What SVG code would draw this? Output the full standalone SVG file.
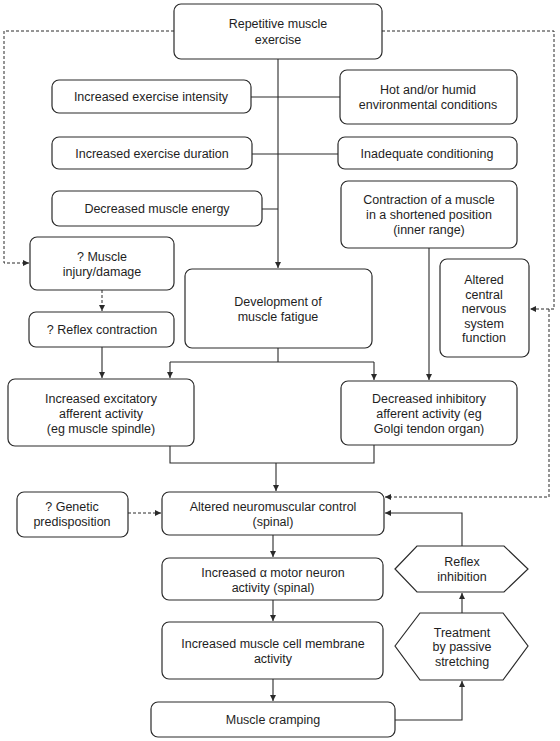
<svg xmlns="http://www.w3.org/2000/svg" width="560" height="741" viewBox="0 0 560 741">
  <style>
    .box { fill: #fff; stroke: #2a2a2a; stroke-width: 1.2; }
    .t { font-family: "Liberation Sans", Arial, sans-serif; font-size: 12.5px; fill: #1e1e1e; text-anchor: middle; }
    .ln { fill: none; stroke: #2a2a2a; stroke-width: 1.1; }
    .dash { fill: none; stroke: #2a2a2a; stroke-width: 1; stroke-dasharray: 3 2; }
  </style>
  <defs>
    <marker id="arr" markerWidth="7" markerHeight="6" refX="6" refY="3" orient="auto" markerUnits="userSpaceOnUse">
      <path d="M0,0 L6,3 L0,6 z" fill="#2a2a2a"/>
    </marker>
  </defs>
  <rect width="560" height="741" fill="#fff"/>

  <g id="connectors">
    <!-- main column -->
    <path class="ln" d="M278,59 V268" marker-end="url(#arr)"/>
    <path class="ln" d="M251,97 H278 M252,154 H278 M262,209 H278 M340,97 H278 M338,154 H278"/>
    <path class="ln" d="M429,248 V380" marker-end="url(#arr)"/>
    <path class="ln" d="M278,348 V362 M170,362 H374"/>
    <path class="ln" d="M170,362 V378" marker-end="url(#arr)"/>
    <path class="ln" d="M374,362 V380" marker-end="url(#arr)"/>
    <path class="ln" d="M102,347 V378" marker-end="url(#arr)"/>
    <path class="ln" d="M170,446 V463 H374 V445"/>
    <path class="ln" d="M276,463 V491" marker-end="url(#arr)"/>
    <path class="ln" d="M273,535 V557" marker-end="url(#arr)"/>
    <path class="ln" d="M273,600 V621" marker-end="url(#arr)"/>
    <path class="ln" d="M273,679 V701" marker-end="url(#arr)"/>
    <!-- feedback loop -->
    <path class="ln" d="M395,720 H462 V681" marker-end="url(#arr)"/>
    <path class="ln" d="M462,613 V593" marker-end="url(#arr)"/>
    <path class="ln" d="M462,546 V513 H385" marker-end="url(#arr)"/>
    <!-- dashed links -->
    <path class="dash" d="M174,31 H4 V263 H29" marker-end="url(#arr)"/>
    <path class="dash" d="M102,290 V311" marker-end="url(#arr)"/>
    <path class="dash" d="M382,31 H554 V309 H530" marker-end="url(#arr)"/>
    <path class="dash" d="M549,309 V497 H385" marker-end="url(#arr)"/>
    <path class="dash" d="M128,513 H161" marker-end="url(#arr)"/>
  </g>

  <g id="repetitive">
    <rect class="box" x="174" y="4" width="208" height="55" rx="7"/>
    <text class="t" x="278" y="28">Repetitive muscle</text>
    <text class="t" x="278" y="44">exercise</text>
  </g>
  <g id="intensity">
    <rect class="box" x="52" y="80" width="199" height="33" rx="7"/>
    <text class="t" x="151" y="101">Increased exercise intensity</text>
  </g>
  <g id="duration">
    <rect class="box" x="52" y="137" width="200" height="32" rx="7"/>
    <text class="t" x="152" y="158">Increased exercise duration</text>
  </g>
  <g id="energy">
    <rect class="box" x="52" y="191" width="210" height="35" rx="7"/>
    <text class="t" x="157" y="213">Decreased muscle energy</text>
  </g>
  <g id="hot">
    <rect class="box" x="340" y="70" width="177" height="54" rx="7"/>
    <text class="t" x="428" y="94">Hot and/or humid</text>
    <text class="t" x="428" y="109">environmental conditions</text>
  </g>
  <g id="conditioning">
    <rect class="box" x="338" y="137" width="179" height="32" rx="7"/>
    <text class="t" x="427" y="158">Inadequate conditioning</text>
  </g>
  <g id="contraction">
    <rect class="box" x="341" y="181" width="176" height="67" rx="7"/>
    <text class="t" x="429" y="204">Contraction of a muscle</text>
    <text class="t" x="429" y="219">in a shortened position</text>
    <text class="t" x="429" y="234">(inner range)</text>
  </g>
  <g id="injury">
    <rect class="box" x="30" y="237" width="144" height="53" rx="7"/>
    <text class="t" x="102" y="261">? Muscle</text>
    <text class="t" x="102" y="276">injury/damage</text>
  </g>
  <g id="reflex-contraction">
    <rect class="box" x="29" y="312" width="145" height="35" rx="7"/>
    <text class="t" x="102" y="334">? Reflex contraction</text>
  </g>
  <g id="fatigue">
    <rect class="box" x="185" y="269" width="187" height="79" rx="7"/>
    <text class="t" x="278" y="306">Development of</text>
    <text class="t" x="278" y="321">muscle fatigue</text>
  </g>
  <g id="cns">
    <rect class="box" x="440" y="259" width="89" height="98" rx="7"/>
    <text class="t" x="484" y="284">Altered</text>
    <text class="t" x="484" y="299">central</text>
    <text class="t" x="484" y="313">nervous</text>
    <text class="t" x="484" y="328">system</text>
    <text class="t" x="484" y="342">function</text>
  </g>
  <g id="excitatory">
    <rect class="box" x="8" y="379" width="186" height="67" rx="7"/>
    <text class="t" x="101" y="403">Increased excitatory</text>
    <text class="t" x="101" y="418">afferent activity</text>
    <text class="t" x="101" y="433">(eg muscle spindle)</text>
  </g>
  <g id="inhibitory">
    <rect class="box" x="341" y="381" width="176" height="64" rx="7"/>
    <text class="t" x="429" y="403">Decreased inhibitory</text>
    <text class="t" x="429" y="418">afferent activity (eg</text>
    <text class="t" x="429" y="433">Golgi tendon organ)</text>
  </g>
  <g id="genetic">
    <rect class="box" x="17" y="492" width="111" height="45" rx="7"/>
    <text class="t" x="72" y="511">? Genetic</text>
    <text class="t" x="72" y="526">predisposition</text>
  </g>
  <g id="neuromuscular">
    <rect class="box" x="162" y="492" width="222" height="43" rx="7"/>
    <text class="t" x="273" y="511">Altered neuromuscular control</text>
    <text class="t" x="273" y="526">(spinal)</text>
  </g>
  <g id="motor-neuron">
    <rect class="box" x="162" y="558" width="221" height="42" rx="7"/>
    <text class="t" x="273" y="577">Increased α motor neuron</text>
    <text class="t" x="273" y="592">activity (spinal)</text>
  </g>
  <g id="membrane">
    <rect class="box" x="162" y="622" width="221" height="57" rx="7"/>
    <text class="t" x="273" y="648">Increased muscle cell membrane</text>
    <text class="t" x="273" y="663">activity</text>
  </g>
  <g id="cramping">
    <rect class="box" x="151" y="702" width="244" height="35" rx="7"/>
    <text class="t" x="273" y="724">Muscle cramping</text>
  </g>
  <g id="reflex-inhibition">
    <polygon class="box" points="395,569 417,546 504,546 528,569 504,592 417,592"/>
    <text class="t" x="462" y="566">Reflex</text>
    <text class="t" x="462" y="581">inhibition</text>
  </g>
  <g id="stretching">
    <polygon class="box" points="395,646 420,613 503,613 528,646 503,680 420,680"/>
    <text class="t" x="462" y="637">Treatment</text>
    <text class="t" x="462" y="651">by passive</text>
    <text class="t" x="462" y="666">stretching</text>
  </g>
</svg>
